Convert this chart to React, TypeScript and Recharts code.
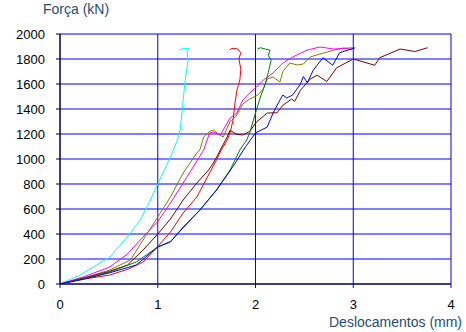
import { LineChart, Line, XAxis, YAxis, CartesianGrid, ReferenceLine } from "recharts";

// Curvas força x deslocamento, [mm, kN]
const ciano: [number, number][] = [
  [0, 0], [0.2, 70], [0.34, 136], [0.51, 216], [0.69, 376], [0.82, 512], [0.92, 664],
  [1.0, 800], [1.13, 1016], [1.2, 1150], [1.23, 1232], [1.26, 1470], [1.28, 1630],
  [1.31, 1790], [1.3, 1860], [1.32, 1885], [1.26, 1885], [1.22, 1870],
];

const vermelho: [number, number][] = [
  [0, 0], [0.25, 40], [0.51, 72], [0.7, 120], [0.85, 176], [1.0, 300], [1.13, 416],
  [1.26, 568], [1.4, 696], [1.53, 888], [1.6, 992], [1.65, 1072], [1.71, 1152],
  [1.74, 1208], [1.77, 1312], [1.79, 1448], [1.81, 1552], [1.84, 1632], [1.85, 1720],
  [1.83, 1800], [1.85, 1850], [1.82, 1880], [1.76, 1885], [1.74, 1875],
];

const verde: [number, number][] = [
  [0, 0], [0.25, 45], [0.51, 96], [0.78, 176], [1.0, 296], [1.13, 336], [1.26, 456],
  [1.43, 592], [1.6, 752], [1.74, 912], [1.84, 1072], [1.91, 1152], [1.94, 1208],
  [2.0, 1368], [2.05, 1496], [2.1, 1600], [2.13, 1690], [2.16, 1790], [2.13, 1830],
  [2.15, 1870], [2.1, 1880], [2.05, 1890], [2.02, 1880],
];

const azul: [number, number][] = [
  [0, 0], [0.25, 40], [0.51, 90], [0.78, 152], [1.0, 296], [1.13, 340], [1.26, 450],
  [1.43, 590], [1.6, 750], [1.77, 940], [1.9, 1100], [2.0, 1208], [2.12, 1256],
  [2.18, 1368], [2.25, 1472], [2.28, 1512], [2.32, 1488], [2.38, 1512], [2.46, 1600],
  [2.49, 1660], [2.53, 1610], [2.59, 1710], [2.69, 1810], [2.79, 1750], [2.86, 1850],
  [3.02, 1890],
];

const marrom: [number, number][] = [
  [0, 0], [0.25, 50], [0.5, 100], [0.69, 152], [0.85, 272], [1.0, 400], [1.13, 520],
  [1.26, 672], [1.4, 808], [1.52, 912], [1.57, 968], [1.64, 1072], [1.71, 1176],
  [1.74, 1230], [1.8, 1200], [1.87, 1192], [1.94, 1220], [2.01, 1296], [2.12, 1368],
  [2.22, 1370], [2.28, 1430], [2.37, 1480], [2.4, 1460], [2.46, 1550], [2.56, 1640],
  [2.63, 1670], [2.73, 1620], [2.83, 1730], [3.0, 1800], [3.22, 1750], [3.27, 1810],
  [3.48, 1880], [3.63, 1860], [3.76, 1890],
];

const oliva: [number, number][] = [
  [0, 0], [0.25, 50], [0.51, 112], [0.72, 192], [0.85, 352], [1.0, 536], [1.13, 696],
  [1.26, 888], [1.4, 1048], [1.43, 1072], [1.47, 1176], [1.53, 1220], [1.57, 1232],
  [1.62, 1200], [1.67, 1176], [1.74, 1300], [1.8, 1340], [1.87, 1440], [1.94, 1480],
  [2.02, 1510], [2.08, 1560], [2.12, 1640], [2.18, 1656], [2.25, 1616], [2.28, 1700],
  [2.35, 1768], [2.43, 1752], [2.49, 1760], [2.56, 1816], [2.66, 1840], [2.8, 1870],
  [2.9, 1888], [2.99, 1875],
];

const magenta: [number, number][] = [
  [0, 0], [0.25, 60], [0.51, 136], [0.69, 240], [0.85, 376], [1.0, 500], [1.13, 648],
  [1.26, 808], [1.33, 896], [1.47, 1072], [1.53, 1208], [1.57, 1216], [1.64, 1192],
  [1.74, 1328], [1.81, 1368], [1.87, 1472], [1.94, 1528], [2.01, 1576], [2.08, 1632],
  [2.18, 1688], [2.28, 1768], [2.38, 1816], [2.53, 1872], [2.66, 1896], [2.8, 1880],
  [3.0, 1890],
];

const xTicks = [0, 1, 2, 3, 4];
const yTicks = [0, 200, 400, 600, 800, 1000, 1200, 1400, 1600, 1800, 2000];

const series: { nome: string; cor: string; pontos: [number, number][] }[] = [
  { nome: "ciano", cor: "#00ffff", pontos: ciano },
  { nome: "oliva", cor: "#808000", pontos: oliva },
  { nome: "magenta", cor: "#ff00ff", pontos: magenta },
  { nome: "marrom", cor: "#800000", pontos: marrom },
  { nome: "vermelho", cor: "#ff0000", pontos: vermelho },
  { nome: "verde", cor: "#008000", pontos: verde },
  { nome: "azul", cor: "#0000ff", pontos: azul },
];

const FONT = "'Liberation Sans', Arial, sans-serif";
const tickStyle = { fontSize: 13, fill: "#000", fontFamily: FONT };

export default function App() {
  return (
    <div style={{ position: "absolute", left: 0, top: 0, width: 466, height: 332, background: "#fff" }}>
      <div
        style={{
          position: "absolute", left: 43, top: 1, fontFamily: FONT, fontSize: 14,
          lineHeight: "16px", color: "#1f4e79", whiteSpace: "nowrap",
        }}
      >
        Força (kN)
      </div>
      <div
        style={{
          position: "absolute", left: 329, top: 314, fontFamily: FONT, fontSize: 14,
          lineHeight: "16px", color: "#1f4e79", whiteSpace: "nowrap",
        }}
      >
        Deslocamentos (mm)
      </div>
      <LineChart
        width={466}
        height={332}
        margin={{ top: 34, right: 15, bottom: 18, left: 10 }}
        accessibilityLayer={false}
      >
        <CartesianGrid stroke="#0000ff" strokeWidth={1} />
        <XAxis
          type="number"
          dataKey="x"
          domain={[0, 4]}
          ticks={xTicks}
          height={30}
          tickSize={4}
          tickMargin={12}
          tick={tickStyle}
          axisLine={false}
          tickLine={{ stroke: "#0000ff" }}
        />
        <YAxis
          type="number"
          dataKey="y"
          domain={[0, 2000]}
          ticks={yTicks}
          width={50}
          stroke="#000"
          tickSize={4}
          tickMargin={11}
          tick={tickStyle}
          axisLine={{ stroke: "#000" }}
          tickLine={{ stroke: "#000" }}
        />
        <ReferenceLine y={0} stroke="#000" strokeWidth={1} />
        {series.map((s) => (
          <Line
            key={s.nome}
            data={s.pontos.map(([x, y]) => ({ x, y }))}
            dataKey="y"
            type="linear"
            stroke={s.cor}
            strokeWidth={1}
            dot={false}
            isAnimationActive={false}
          />
        ))}
      </LineChart>
    </div>
  );
}
